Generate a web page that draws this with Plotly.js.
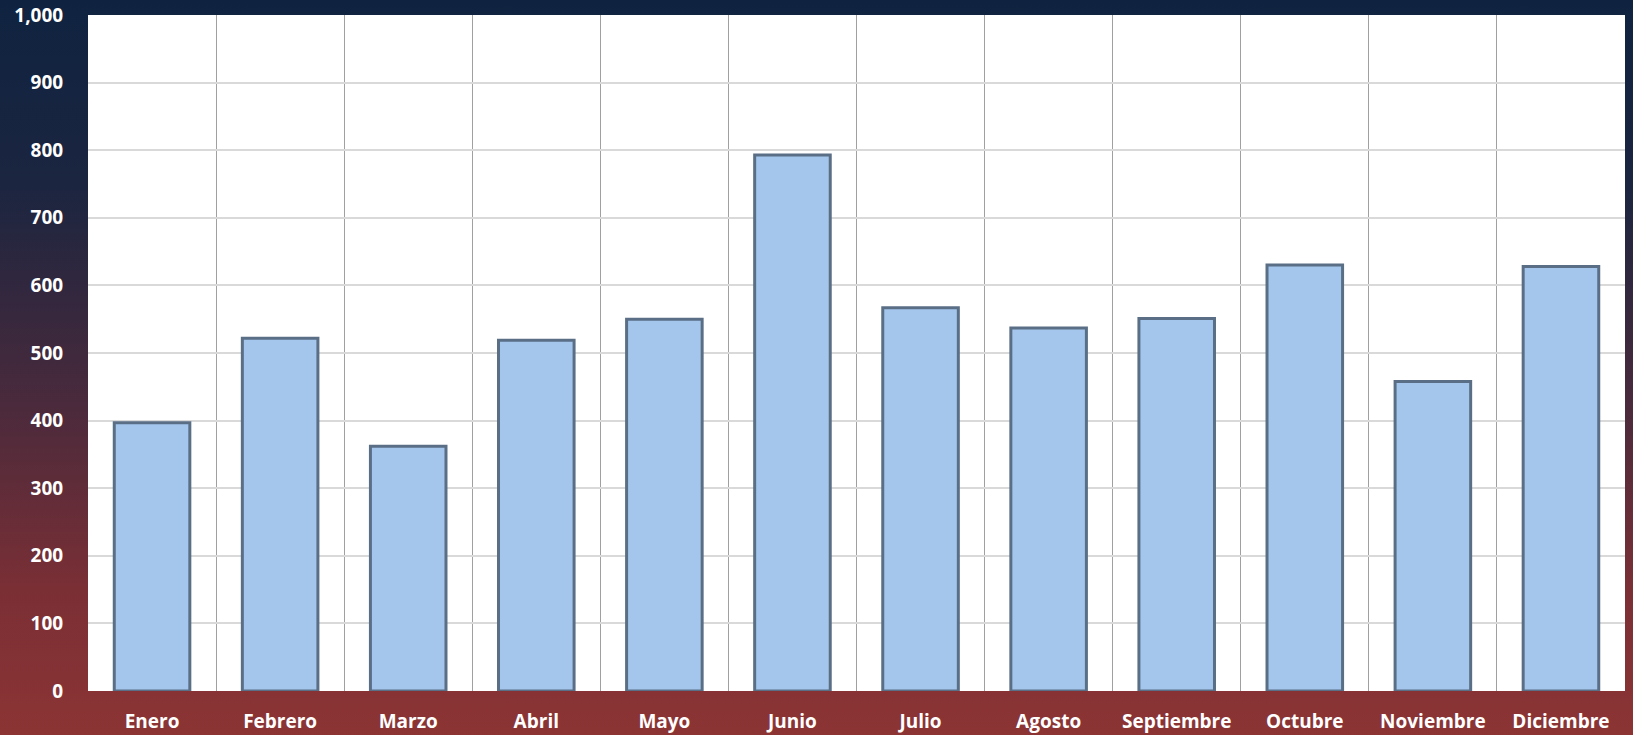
<!DOCTYPE html>
<html>
<head>
<meta charset="utf-8">
<script src="https://cdn.plot.ly/plotly-3.0.1.min.js"></script>
<style>
html,body{margin:0;padding:0;width:1633px;height:735px;overflow:hidden;
background:linear-gradient(to bottom,#0f2340 0%,#1b2540 25%,#4a2a3c 55%,#7a2f35 80%,#8c3434 100%);}
#chart{width:1633px;height:735px;}
</style>
</head>
<body>
<div id="chart"></div>
<script>
const months = ["Enero","Febrero","Marzo","Abril","Mayo","Junio","Julio","Agosto","Septiembre","Octubre","Noviembre","Diciembre"];
const values = [397, 522, 362, 519, 550, 793, 567, 537, 551, 630, 458, 628];
const yTicks = [0,100,200,300,400,500,600,700,800,900,1000];
const yTickLabels = ["0","100","200","300","400","500","600","700","800","900","1,000"];

const traces = [{
  type: "bar",
  x: months,
  y: values,
  width: 0.59,
  marker: {
    color: "#a4c6ec",
    line: {color: "#5a6f86", width: 3}
  },
  hoverinfo: "x+y"
}];

const tickFont = {family: "Open Sans, sans-serif", size: 19, color: "#ffffff", weight: "bold"};

const layout = {
  width: 1633, height: 735,
  margin: {l: 88, r: 8, t: 15, b: 44},
  paper_bgcolor: "rgba(0,0,0,0)",
  plot_bgcolor: "#ffffff",
  showlegend: false,
  font: {family: "Open Sans, sans-serif", color: "#ffffff"},
  xaxis: {
    type: "category",
    tickson: "boundaries",
    showgrid: true,
    gridcolor: "#a0a0a0",
    gridwidth: 1,
    ticks: "",
    ticklabelstandoff: 17,
    showline: false,
    zeroline: false,
    tickfont: tickFont
  },
  yaxis: {
    range: [0, 1000],
    tickvals: yTicks,
    ticktext: yTickLabels,
    showgrid: true,
    gridcolor: "#d9d9d9",
    gridwidth: 2,
    zeroline: false,
    showline: false,
    ticks: "outside",
    ticklen: 20,
    tickcolor: "rgba(0,0,0,0)",
    tickfont: tickFont
  }
};

Plotly.newPlot("chart", traces, layout, {displayModeBar: false, staticPlot: true});
</script>
</body>
</html>
